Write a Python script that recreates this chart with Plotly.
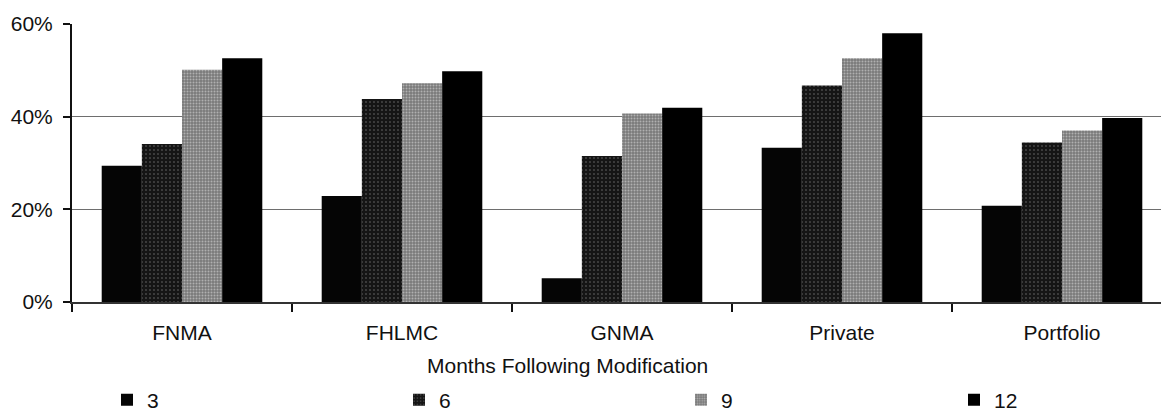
import plotly.graph_objects as go

categories = ["FNMA", "FHLMC", "GNMA", "Private", "Portfolio"]
series_names = ["3", "6", "9", "12"]
m3 = [29.4, 22.9, 5.1, 33.3, 20.8]
m6 = [34.1, 43.8, 31.5, 46.7, 34.4]
m9 = [50.1, 47.2, 40.7, 52.6, 37.0]
m12 = [52.6, 49.8, 41.9, 58.0, 39.7]
y_ticks = [0, 20, 40, 60]
y_tick_text = ["0%", "20%", "40%", "60%"]

FONT = "Liberation Sans, Arial, sans-serif"

styles = [
    dict(color="#050505"),
    dict(color="#1e1e1e", pattern=dict(shape=".", bgcolor="#151515", fgcolor="#c8c8c8", size=4, solidity=0.12)),
    dict(color="#8c8c8c", pattern=dict(shape=".", bgcolor="#7a7a7a", fgcolor="#e6e6e6", size=3, solidity=0.35)),
    dict(color="#000000"),
]
legend_ids = ["legend", "legend2", "legend3", "legend4"]
legend_px = [107, 399, 681, 954]

fig = go.Figure()
for name, vals, st, lid in zip(series_names, [m3, m6, m9, m12], styles, legend_ids):
    fig.add_trace(go.Bar(
        x=categories, y=vals, name=name, legend=lid,
        marker=dict(line=dict(width=0), **st),
    ))

legend_layout = {}
for lid, px in zip(legend_ids, legend_px):
    legend_layout[lid] = dict(
        orientation="h",
        xref="container", yref="container",
        x=px / 1161, y=(412 - 400) / 412,
        xanchor="left", yanchor="middle",
        font=dict(family=FONT, size=21, color="#111"),
        itemclick=False,
        bgcolor="rgba(0,0,0,0)",
    )

fig.update_layout(
    width=1161, height=412,
    margin=dict(l=72, r=0, t=24, b=110),
    paper_bgcolor="white", plot_bgcolor="white",
    barmode="group", bargap=0.27, bargroupgap=0,
    font=dict(family=FONT, size=21, color="#111"),
    showlegend=True,
    annotations=[dict(
        text="Months Following Modification",
        xref="paper", yref="paper",
        x=(567 - 72) / 1089, y=(301.7 - 365) / 277.5,
        xanchor="center", yanchor="middle", showarrow=False,
        font=dict(family=FONT, size=21, color="#111"),
    )],
    **legend_layout,
)

fig.update_xaxes(
    type="category",
    range=[-0.5, 4.45],
    showline=True, linecolor="#333", linewidth=1.5,
    ticks="outside", tickson="boundaries", ticklen=8, tickcolor="#111", tickwidth=2,
    showgrid=False, zeroline=False,
    ticklabelstandoff=11,
    tickfont=dict(family=FONT, size=21, color="#111"),
)
fig.update_yaxes(
    range=[0, 60],
    tickmode="array", tickvals=y_ticks, ticktext=y_tick_text,
    showline=True, linecolor="#111", linewidth=2,
    ticks="outside", ticklen=7, tickcolor="#111", tickwidth=2,
    showgrid=True, gridcolor="#6e6e6e", gridwidth=1,
    zeroline=False,
    ticklabelstandoff=6,
    tickfont=dict(family=FONT, size=21, color="#111"),
)

fig.write_html("out.html")
